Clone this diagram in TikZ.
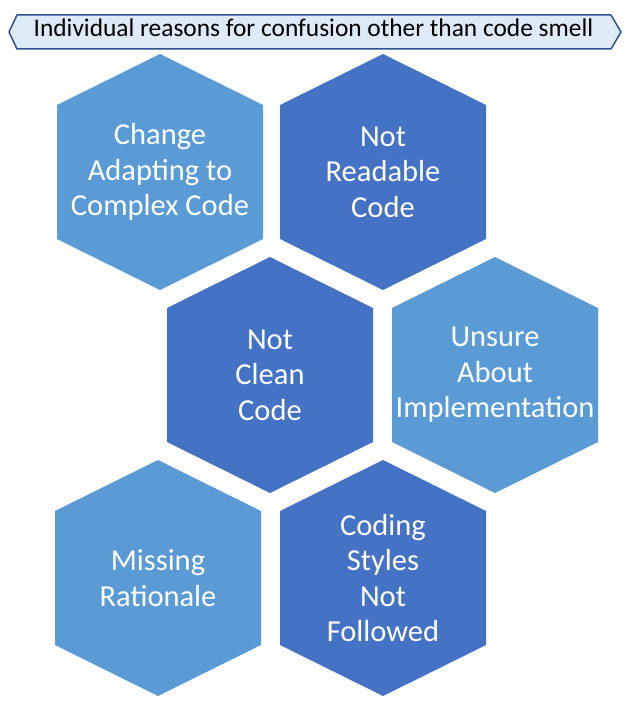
\documentclass[tikz,border=0pt]{standalone}
\usepackage{fontspec}
\setmainfont{Carlito}
\usepackage{tikz}
\definecolor{celllight}{RGB}{91,155,213}
\definecolor{celldark}{RGB}{68,114,196}
\definecolor{bannerfill}{RGB}{222,235,247}
\definecolor{bannerline}{RGB}{47,82,143}
\tikzset{
    hexlight/.style={fill=celllight,draw=none},
    hexdark/.style={fill=celldark,draw=none},
    hextext/.style={text=white,align=center,inner sep=0pt,font=\fontsize{30.5}{35.5}\selectfont},
    banner/.style={fill=bannerfill,draw=bannerline,line width=1.5pt,line join=round},
}

\begin{document}
\begin{tikzpicture}[x=1pt,y=-1pt]
    \useasboundingbox (0,0) rectangle (632,717);

    % title banner
    \draw[banner] (9,32) -- (17,15) -- (611,15) -- (621,32) -- (611,49) -- (17,49) -- cycle;
    \node[anchor=base,inner sep=0pt,font=\fontsize{25.4}{30}\selectfont] (title) at (313.5,36.5)
        {Individual reasons for confusion other than code smell};

    % hexagons
    \foreach \cx/\cy/\s in {160/172/hexlight, 383/172/hexdark, 270/375/hexdark,
                            495/375/hexlight, 158/578/hexlight, 383/578/hexdark}
        \fill[\s] (\cx,\cy) +(0,-118) -- +(103,-67) -- +(103,67) -- +(0,118)
                  -- +(-103,67) -- +(-103,-67) -- cycle;

    \node[hextext] (change) at (160,172) {Change\\Adapting to\\Complex Code}; % row 1
    \node[hextext] (readable) at (383,172) {Not\\Readable\\Code};
    \node[hextext] (clean) at (270,375) {Not\\Clean\\Code}; % row 2
    \node[hextext] (unsure) at (495,375) {Unsure\\About\\Implementation};
    \node[hextext] (rationale) at (158,578) {Missing\\Rationale}; % row 3
    \node[hextext] (styles) at (383,578) {Coding\\Styles\\Not\\Followed};
\end{tikzpicture}
\end{document}
